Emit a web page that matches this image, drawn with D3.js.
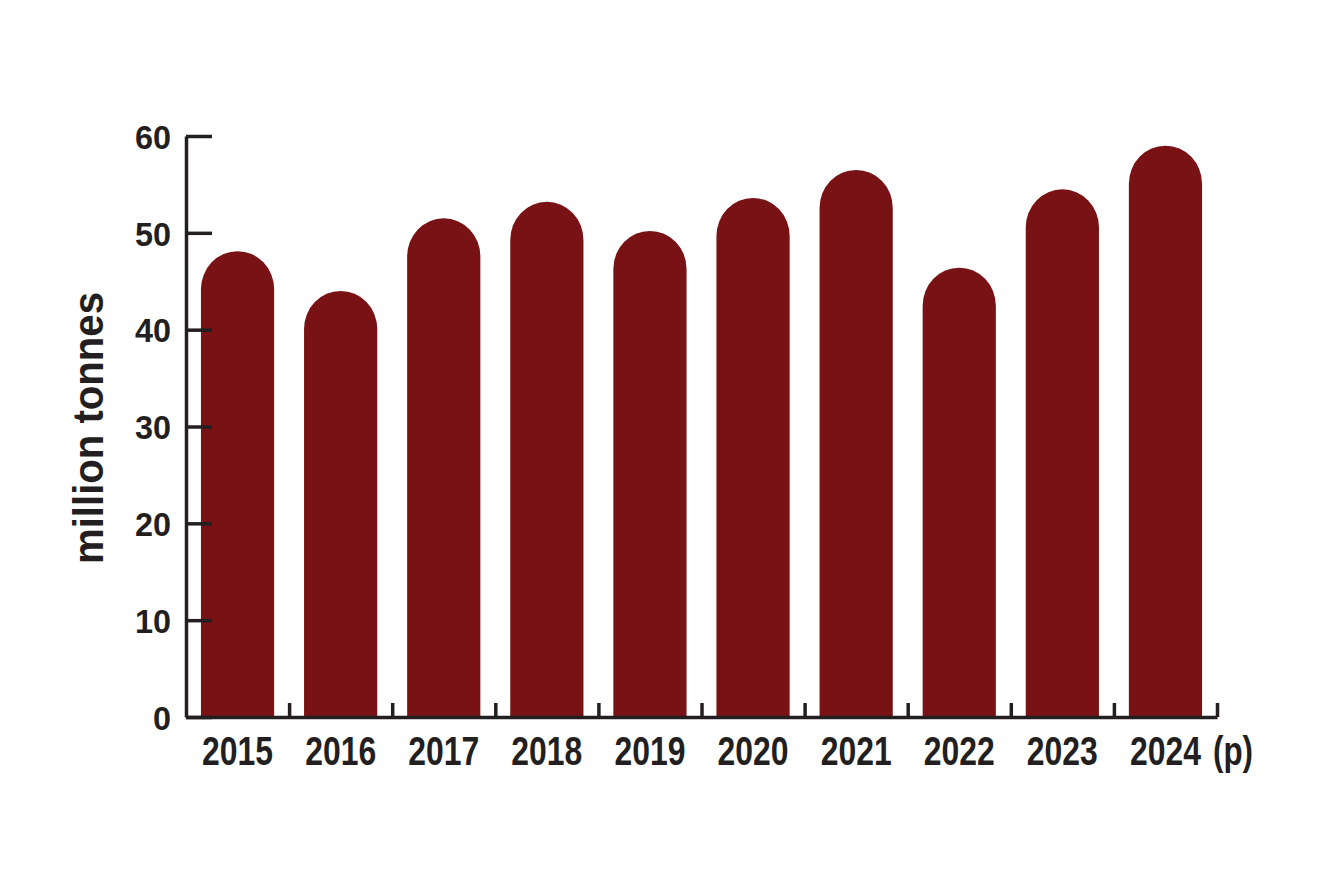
<!DOCTYPE html>
<html>
<head>
<meta charset="utf-8">
<script src="https://cdn.jsdelivr.net/npm/d3@7"></script>
<style>
  body { margin: 0; background: #fff; }
  text { font-family: "Liberation Sans", Arial, sans-serif; font-weight: bold; fill: #231f20; }
</style>
</head>
<body>
<div id="chart"></div>
<script>
// data
var years = ["2015", "2016", "2017", "2018", "2019", "2020", "2021", "2022", "2023", "2024"];
var production = [48.1, 44.0, 51.5, 53.2, 50.2, 53.6, 56.5, 46.4, 54.5, 59.0];
var yTicks = [0, 10, 20, 30, 40, 50, 60];
var provisional = "(p)";
var yTitle = "million tonnes";

var svgWidth = 1330, svgHeight = 878;
var plotLeft = 186, plotRight = 1217, plotTop = 136, plotBottom = 717;
var barColor = "#781214", axisColor = "#231f20";

var svg = d3.select("#chart").append("svg")
    .attr("width", svgWidth)
    .attr("height", svgHeight);

var x = d3.scaleBand().domain(years).range([plotLeft, plotRight]).paddingInner(0.29).paddingOuter(0.145);
var y = d3.scaleLinear().domain([0, 60]).range([plotBottom, plotTop]);

// bars with rounded (half ellipse) tops
var ry = 38;
svg.selectAll("path.bar")
    .data(years)
    .enter()
    .append("path")
    .attr("class", "bar")
    .attr("fill", barColor)
    .attr("d", function(d, i) {
        var x0 = x(d), w = x.bandwidth(), yt = y(production[i]);
        return "M" + x0 + "," + y(0) +
            "V" + (yt + ry) +
            "A" + (w / 2) + "," + ry + " 0 0 1 " + (x0 + w) + "," + (yt + ry) +
            "V" + y(0) + "Z";
    });

// y axis, ticks pointing into the plot
var leftAxis = d3.axisLeft(y).tickValues(yTicks).tickSize(-26).tickSizeOuter(0).tickFormat(d3.format("d"));
var gy = svg.append("g")
    .attr("transform", "translate(" + plotLeft + ",0)")
    .call(leftAxis);
gy.select(".domain").attr("stroke", axisColor).attr("stroke-width", 3.5);
gy.selectAll(".tick line").attr("stroke", axisColor).attr("stroke-width", 3.5);
gy.selectAll(".tick text")
    .attr("x", -15)
    .attr("dy", "0.36em")
    .attr("font-size", 34)
    .attr("font-family", "Liberation Sans, Arial, sans-serif")
    .attr("fill", axisColor)
    .attr("textLength", function(d) { return String(d).length * 18; })
    .attr("lengthAdjust", "spacingAndGlyphs");

// x axis line with small upward ticks between the bars
var edges = d3.range(1, years.length + 1);
var xEdge = d3.scaleLinear().domain([0, years.length]).range([plotLeft, plotRight]);
var bottomAxis = d3.axisBottom(xEdge).tickValues(edges).tickSize(-14).tickSizeOuter(0).tickFormat("");
var gx = svg.append("g")
    .attr("transform", "translate(0," + plotBottom + ")")
    .call(bottomAxis);
gx.select(".domain").attr("stroke", axisColor).attr("stroke-width", 3.5);
gx.selectAll(".tick line").attr("stroke", axisColor).attr("stroke-width", 3.5);

// year labels
svg.selectAll("text.year")
    .data(years)
    .enter()
    .append("text")
    .attr("class", "year")
    .attr("x", function(d) { return x(d) + x.bandwidth() / 2; })
    .attr("y", 765)
    .attr("text-anchor", "middle")
    .attr("font-size", 40)
    .attr("textLength", 71)
    .attr("lengthAdjust", "spacingAndGlyphs")
    .text(function(d) { return d; });

var last = years[years.length - 1];
svg.append("text")
    .attr("x", x(last) + x.bandwidth() + 11)
    .attr("y", 765)
    .attr("font-size", 40)
    .attr("textLength", 40)
    .attr("lengthAdjust", "spacingAndGlyphs")
    .text(provisional);

// y axis title
svg.append("text")
    .attr("transform", "translate(103,428) rotate(-90)")
    .attr("text-anchor", "middle")
    .attr("font-size", 42)
    .attr("textLength", 272)
    .attr("lengthAdjust", "spacingAndGlyphs")
    .text(yTitle);
</script>
</body>
</html>
